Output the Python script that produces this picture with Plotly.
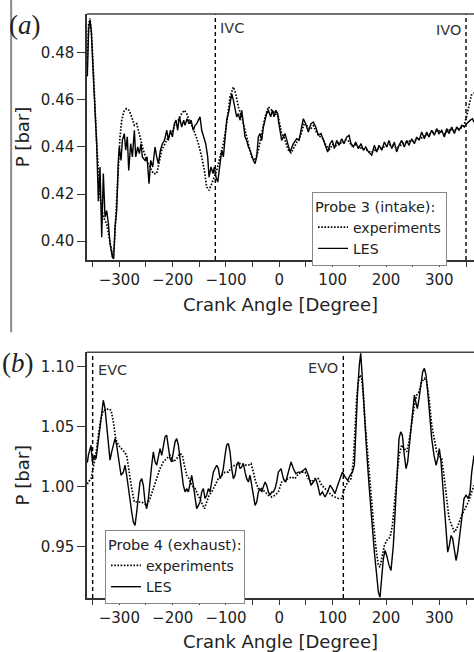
import plotly.graph_objects as go

# ---------------- data: probe 3 (intake) ----------------
a_les_x = [-360, -357.5, -355, -352.5, -348.7, -342.4, -339.3, -336.2, -333, -330, -326.8, -323.7, -320.5, -317.4, -313, -310.5, -308, -304.9, -301.8, -300, -296.8, -294.3, -290.6, -288, -285, -282.4, -278.7, -275.5, -271.8, -269.3, -265.5, -262.4, -259.3, -256.8, -251.8, -248, -244.3, -241.2, -237.4, -233, -229.9, -226.8, -223, -219.3, -215.5, -211, -208, -204.3, -200.5, -196.8, -193.7, -190.6, -187.4, -183, -179.3, -176.8, -173, -169.3, -165.5, -161.2, -158, -154.9, -151.8, -148.7, -145.5, -142.4, -138, -134.3, -131.8, -128, -124.3, -121.8, -118.7, -115.5, -111.8, -108, -104.9, -101.8, -98.7, -94.3, -91.2, -89.3, -86.2, -83, -79.9, -76.8, -73.7, -70.5, -67.4, -64.3, -61.2, -58, -54.9, -51.8, -48.7, -45.5, -42.4, -39.3, -36.2, -33, -29.9, -26.8, -23.7, -20.5, -16.2, -13, -9.9, -6.8, -3, -1.8, 4.4, 10.7, 17, 20, 26.3, 32.6, 37, 40.7, 45, 49.4, 54.4, 59.4, 63.8, 68.2, 73.2, 78.2, 82.6, 87, 90.7, 95, 99.4, 103.2, 107.6, 112, 117, 121.3, 126.3, 130.7, 134.4, 138.8, 143.2, 148.2, 153.2, 157.6, 162, 167, 173.2, 178.2, 182.6, 187, 192, 197, 201.3, 205.7, 210.7, 215.7, 220, 224.4, 229.4, 234.4, 238.8, 243.2, 248.2, 253.2, 257.6, 262, 267, 272, 276.3, 280.7, 285.7, 290.7, 295, 299.4, 304.4, 309.4, 313.8, 318.2, 323.2, 328.2, 332.6, 337, 342, 347, 351.3, 357.6, 362, 365]
a_les_p = [0.470, 0.490, 0.494, 0.489, 0.470, 0.441, 0.417, 0.4315, 0.4017, 0.4287, 0.4102, 0.413, 0.4074, 0.3989, 0.3932, 0.3925, 0.406, 0.4131, 0.4343, 0.440, 0.4343, 0.4428, 0.4457, 0.4386, 0.4443, 0.430, 0.4414, 0.4358, 0.4471, 0.4358, 0.440, 0.4372, 0.4414, 0.4358, 0.4343, 0.4358, 0.4244, 0.4343, 0.4315, 0.440, 0.4358, 0.4329, 0.4386, 0.4414, 0.4428, 0.4471, 0.4428, 0.4471, 0.4443, 0.4499, 0.4514, 0.4471, 0.4528, 0.4485, 0.4514, 0.4492, 0.452, 0.4499, 0.4514, 0.4471, 0.4492, 0.4499, 0.4514, 0.4528, 0.4471, 0.4443, 0.4414, 0.4358, 0.4272, 0.4315, 0.4287, 0.4315, 0.4272, 0.4251, 0.4315, 0.4386, 0.4358, 0.4443, 0.4514, 0.4556, 0.4613, 0.4627, 0.4599, 0.4556, 0.4528, 0.4542, 0.4514, 0.4556, 0.4485, 0.4443, 0.4428, 0.440, 0.4386, 0.4358, 0.4343, 0.4329, 0.4358, 0.4443, 0.4457, 0.4428, 0.4485, 0.4514, 0.4542, 0.4556, 0.4528, 0.4556, 0.4528, 0.4556, 0.4542, 0.4513, 0.4428, 0.4457, 0.440, 0.4379, 0.4414, 0.4435, 0.4428, 0.4471, 0.452, 0.4499, 0.4464, 0.4499, 0.4506, 0.4485, 0.445, 0.4457, 0.4428, 0.440, 0.4379, 0.4414, 0.4428, 0.4393, 0.4428, 0.4407, 0.4435, 0.4414, 0.4442, 0.445, 0.4414, 0.440, 0.4421, 0.4393, 0.4414, 0.4386, 0.440, 0.4379, 0.4365, 0.4407, 0.4379, 0.4407, 0.4386, 0.4421, 0.440, 0.4428, 0.4393, 0.4421, 0.4379, 0.4407, 0.4428, 0.440, 0.4428, 0.4407, 0.4435, 0.4414, 0.4442, 0.4428, 0.4464, 0.4435, 0.4464, 0.4442, 0.4471, 0.445, 0.4478, 0.4457, 0.4471, 0.4442, 0.4478, 0.4457, 0.4485, 0.4457, 0.4485, 0.4471, 0.4492, 0.4485, 0.4499, 0.4513, 0.452, 0.4505]

a_exp_x = [-360, -357.5, -355, -352, -348.7, -342.4, -336.2, -330, -323.7, -317.4, -312.4, -309.3, -305, -301.8, -298.7, -295.5, -290.6, -286.2, -281.8, -276.8, -271.8, -267.4, -264.3, -259.3, -254.9, -248.7, -242.4, -236.2, -229.9, -225.6, -220.5, -214.3, -208, -201.8, -195.5, -189.3, -183, -178, -173.7, -169.3, -164.3, -158, -151.8, -145.5, -140.5, -136.2, -131.8, -126.8, -121.8, -117.4, -111.2, -104.9, -98.7, -92.4, -86.2, -81.8, -76.8, -70.5, -64.3, -58, -51.8, -45.5, -39.3, -33, -26.8, -20.5, -14.3, -8, -1.8, 4, 10, 16, 22, 28, 34, 40, 46, 52, 58, 64, 70, 76, 82, 88, 94, 100, 106, 112, 118, 124, 130, 136, 142, 148, 154, 160, 166, 172, 178, 184, 190, 196, 202, 208, 214, 220, 226, 232, 238, 244, 250, 256, 262, 268, 274, 280, 286, 292, 298, 304, 310, 316, 322, 328, 334, 340, 346, 350, 355, 360, 365]
a_exp_p = [0.478, 0.492, 0.4946, 0.488, 0.4726, 0.4414, 0.4187, 0.4102, 0.4074, 0.4003, 0.3932, 0.3989, 0.4159, 0.4329, 0.4443, 0.4514, 0.4556, 0.4563, 0.4556, 0.4528, 0.4492, 0.4499, 0.4471, 0.4428, 0.4386, 0.4343, 0.4315, 0.4287, 0.4287, 0.4329, 0.4386, 0.4414, 0.4443, 0.4457, 0.4499, 0.4514, 0.4542, 0.4556, 0.4542, 0.4514, 0.4492, 0.4457, 0.4414, 0.4358, 0.430, 0.423, 0.4216, 0.4244, 0.4272, 0.430, 0.4358, 0.4414, 0.4499, 0.4613, 0.4655, 0.4627, 0.457, 0.4528, 0.4471, 0.4414, 0.4358, 0.4343, 0.4386, 0.4457, 0.4528, 0.457, 0.4556, 0.4542, 0.4528, 0.446, 0.4435, 0.439, 0.4375, 0.440, 0.4425, 0.445, 0.4495, 0.449, 0.4475, 0.449, 0.446, 0.4445, 0.4435, 0.4405, 0.439, 0.441, 0.4405, 0.442, 0.4415, 0.443, 0.4425, 0.4405, 0.441, 0.440, 0.4395, 0.439, 0.4385, 0.4375, 0.4385, 0.439, 0.4395, 0.440, 0.4405, 0.441, 0.4405, 0.4395, 0.4405, 0.4415, 0.442, 0.4425, 0.4425, 0.443, 0.4435, 0.444, 0.445, 0.4455, 0.446, 0.4465, 0.447, 0.4465, 0.4455, 0.447, 0.4475, 0.447, 0.4475, 0.448, 0.449, 0.452, 0.457, 0.462, 0.463]

# ---------------- data: probe 4 (exhaust) ----------------
b_les_x = [-360, -358, -353, -350.5, -346.8, -343.7, -340.5, -336.2, -333, -330, -326.8, -323.7, -320.5, -317.4, -314.3, -311.2, -308, -305, -301.8, -296.8, -292.4, -289.3, -286.2, -283, -280, -276.8, -273.7, -270.5, -267.4, -264.3, -261.2, -258, -255, -251.8, -248.7, -245.5, -242.4, -239.3, -236.2, -233, -229.9, -226.8, -223.7, -220.5, -217.4, -214.3, -211.2, -208, -205, -201.8, -198.7, -195.5, -192.4, -189.3, -186.2, -183, -180, -176.8, -173.7, -170.5, -167.4, -164.3, -161.2, -158, -155, -151.8, -148.7, -145.5, -142.4, -139.3, -136.2, -133, -130, -126.8, -123.7, -120.5, -117.4, -114.3, -111.2, -108, -105, -101.8, -98.7, -95.5, -92.4, -89.3, -86.2, -83, -80, -76.8, -73.7, -70.5, -67.4, -64.3, -61.2, -58, -55, -51.8, -48.7, -45.5, -42.4, -39.3, -36.2, -33, -30, -26.8, -23.7, -20.5, -17.4, -14.3, -11.2, -8, -5, -1.8, 3.2, 7.6, 12, 17, 22, 26.3, 30.7, 35.7, 40.7, 45, 49.4, 54.4, 59.4, 63.8, 68.2, 72, 76.3, 80.7, 85.7, 90.7, 95, 99.4, 104.4, 109.4, 113.8, 118.2, 123.2, 128.2, 132.6, 137, 140.7, 143.2, 147, 150, 152.6, 155.7, 159.5, 163.8, 168.2, 173.2, 178.2, 182.6, 185.7, 188.8, 192, 195, 198.2, 201.3, 205.7, 209.4, 213.8, 218.2, 222, 224.4, 227.6, 230.7, 234.4, 237.6, 240.7, 245, 249.4, 253.2, 255.7, 258.8, 262, 265.7, 268.8, 272, 275, 278.2, 282, 285.7, 290, 294, 297, 300, 303.2, 306.3, 309.4, 312.6, 315.7, 318.8, 322, 325, 328.2, 331.3, 334.4, 337.6, 342, 346.3, 350, 354.4, 357.6, 360.7, 365]
b_les_p = [1.020, 1.026, 1.0345, 1.0206, 1.026, 1.0233, 1.034, 1.0484, 1.0624, 1.072, 1.065, 1.0512, 1.0345, 1.022, 1.029, 1.0345, 1.040, 1.0345, 1.0233, 1.0094, 1.012, 1.0178, 1.0094, 0.9983, 0.9871, 0.9788, 0.9704, 0.9676, 0.9788, 0.9927, 1.0038, 1.0066, 1.0011, 0.9871, 0.9815, 0.990, 1.0066, 1.0178, 1.029, 1.0206, 1.0178, 1.026, 1.0317, 1.026, 1.0345, 1.0415, 1.0429, 1.0345, 1.0233, 1.0206, 1.029, 1.0373, 1.040, 1.0345, 1.0233, 1.012, 1.0011, 0.9955, 0.9983, 0.9955, 1.0038, 1.0094, 1.0011, 0.990, 0.9815, 0.9843, 0.9871, 0.9955, 0.9983, 0.990, 0.9927, 0.9983, 0.9955, 1.0038, 1.012, 1.015, 1.0178, 1.015, 1.0066, 1.0094, 1.015, 1.026, 1.0345, 1.0359, 1.029, 1.015, 1.0066, 1.0094, 1.0178, 1.0206, 1.015, 1.0164, 1.0192, 1.012, 1.0066, 1.0038, 1.0094, 1.0011, 0.9927, 0.9843, 0.9871, 0.9955, 0.9983, 0.9955, 0.9997, 1.0038, 1.0011, 0.9955, 0.9927, 0.9955, 0.9955, 0.9983, 1.0038, 1.012, 1.015, 1.0066, 1.0038, 1.012, 1.0206, 1.015, 1.0108, 1.012, 1.012, 1.0136, 1.015, 1.0094, 1.0011, 1.0038, 1.0066, 1.0011, 0.9927, 0.9955, 0.9913, 0.9955, 1.0011, 0.9983, 0.9941, 1.0011, 1.0066, 1.012, 1.008, 1.0052, 1.0094, 1.012, 1.0178, 1.0484, 1.0819, 1.1014, 1.1111, 1.0902, 1.0568, 1.0289, 1.0011, 0.9704, 0.9453, 0.9258, 0.9119, 0.9077, 0.9286, 0.9397, 0.9467, 0.9425, 0.9342, 0.930, 0.9509, 0.9871, 1.0233, 1.040, 1.0456, 1.0429, 1.026, 1.015, 1.0206, 1.040, 1.0624, 1.0763, 1.0707, 1.0651, 1.0735, 1.0875, 1.0958, 1.0986, 1.093, 1.0791, 1.0568, 1.040, 1.026, 1.0178, 1.0233, 1.0317, 1.0206, 1.0038, 0.9843, 0.962, 0.9453, 0.9509, 0.9592, 0.9564, 0.9453, 0.9383, 0.9453, 0.9592, 0.9732, 0.990, 0.9927, 0.990, 0.9955, 1.012, 1.026]

b_exp_x = [-360, -358, -353, -348.7, -344.3, -339.3, -334.3, -330, -325.5, -320.5, -315.5, -311.2, -306.8, -301.8, -295.5, -290.6, -286.2, -281.8, -276.8, -271.8, -267.4, -263, -258, -253, -248.7, -242.4, -236.2, -229.9, -223.7, -217.4, -211.2, -205, -198.7, -192.4, -186.2, -181.8, -178, -173.7, -169.3, -164.3, -158, -151.8, -145.5, -140.5, -136.2, -131.8, -126.8, -120.5, -114.3, -108, -101.8, -95.5, -89.3, -83, -76.8, -70.5, -64.3, -58, -53, -48.7, -44.3, -39.3, -33, -26.8, -20.5, -14.3, -8, -1.8, 4.4, 10.7, 17, 23.2, 29.4, 35.7, 41.9, 48.2, 54.4, 60.7, 67, 73.2, 79.4, 85.7, 92, 98.2, 104.4, 110.7, 117, 120, 124.4, 129.4, 134.4, 138.8, 142, 145, 148.2, 151.3, 154.4, 157.6, 160.7, 165.7, 170.7, 176.3, 181.3, 185.7, 188.8, 192, 197, 201.3, 207.6, 212, 215.7, 220, 224.4, 229.4, 234.4, 238.8, 243.2, 248.2, 253.2, 257.6, 262, 267, 272, 276.3, 280.7, 285.7, 290.7, 295, 299.4, 304.4, 309.4, 313.8, 318.2, 323.2, 328.2, 332.6, 337, 342, 348.2, 354.4, 360.7, 365]
b_exp_p = [1.002, 1.0038, 1.0066, 1.015, 1.026, 1.0429, 1.0568, 1.0637, 1.0637, 1.065, 1.0637, 1.054, 1.040, 1.0345, 1.0317, 1.029, 1.026, 1.012, 0.9983, 0.9871, 0.9871, 0.9871, 0.9871, 0.9857, 0.9843, 0.990, 0.9983, 1.0066, 1.015, 1.0206, 1.0233, 1.026, 1.0206, 1.0233, 1.0275, 1.026, 1.0178, 1.0094, 1.0066, 1.0011, 0.9983, 0.9927, 0.9871, 0.9815, 0.9871, 0.9927, 0.9955, 1.0011, 1.0066, 1.0094, 1.012, 1.012, 1.0164, 1.0178, 1.0192, 1.0192, 1.0178, 1.0178, 1.0192, 1.012, 1.0038, 0.9983, 0.9983, 0.9955, 0.9927, 0.9913, 0.9927, 0.9955, 1.0038, 1.0052, 1.0066, 1.008, 1.0066, 1.0108, 1.012, 1.012, 1.0066, 1.0038, 1.0066, 1.0066, 1.0011, 0.9983, 0.9955, 0.9927, 0.9913, 0.990, 0.990, 0.9955, 1.0011, 1.0038, 1.0066, 1.0206, 1.0484, 1.0735, 1.0875, 1.093, 1.0902, 1.0763, 1.054, 1.026, 0.9983, 0.9704, 0.9481, 0.9342, 0.9328, 0.9397, 0.9509, 0.955, 0.9578, 0.9676, 0.9843, 1.0066, 1.026, 1.0345, 1.0317, 1.029, 1.0373, 1.054, 1.0679, 1.0763, 1.0791, 1.0875, 1.0902, 1.0875, 1.0735, 1.0512, 1.0373, 1.029, 1.026, 1.0233, 1.0066, 0.9871, 0.9732, 0.9676, 0.962, 0.9648, 0.9704, 0.976, 0.9815, 0.9871, 0.9955, 1.0011]

# valve events (crank angle, label)
a_events = [(-120, "IVC"), (350, "IVO")]
b_events = [(-350, "EVC"), (120, "EVO")]

a_yticks = [0.40, 0.42, 0.44, 0.46, 0.48]
b_yticks = [0.95, 1.00, 1.05, 1.10]

FONT = "DejaVu Sans"
INK = "#222222"
DOT = "1.6px,1.6px"

fig = go.Figure()
fig.add_trace(go.Scatter(x=a_exp_x, y=a_exp_p, mode="lines", name="experiments",
                         line=dict(color="black", width=1.7, dash=DOT),
                         xaxis="x", yaxis="y", legend="legend"))
fig.add_trace(go.Scatter(x=a_les_x, y=a_les_p, mode="lines", name="LES",
                         line=dict(color="black", width=1.4),
                         xaxis="x", yaxis="y", legend="legend"))
fig.add_trace(go.Scatter(x=b_exp_x, y=b_exp_p, mode="lines", name="experiments",
                         line=dict(color="black", width=1.7, dash=DOT),
                         xaxis="x2", yaxis="y2", legend="legend2"))
fig.add_trace(go.Scatter(x=b_les_x, y=b_les_p, mode="lines", name="LES",
                         line=dict(color="black", width=1.4),
                         xaxis="x2", yaxis="y2", legend="legend2"))

xcommon = dict(range=[-360.6, 365], dtick=100, tick0=0, ticks="outside", ticklen=5,
               tickwidth=1.3, tickcolor="#333", showline=True, linecolor="#333",
               linewidth=1.5, mirror=False, showgrid=False, zeroline=False,
               tickfont=dict(family=FONT, size=15, color=INK),
               minor=dict(dtick=50, ticks="outside", ticklen=5, tickwidth=1.3, tickcolor="#333"),
               title=dict(text="Crank Angle [Degree]", font=dict(family=FONT, size=18, color=INK), standoff=11),
               automargin=False)
ycommon = dict(ticks="outside", ticklen=8, tickwidth=1.3, tickcolor="#333", showline=True,
               linecolor="#333", linewidth=1.5, showgrid=False, zeroline=False, tickformat=".2f",
               tickfont=dict(family=FONT, size=15, color=INK),
               title=dict(text="P [bar]", font=dict(family=FONT, size=18, color=INK), standoff=7),
               automargin=False)

top_dom = [0.5788, 1.0]
bot_dom = [0.0, 0.4207]

shapes = []
annotations = []
for xr, yr, events, yv in [("x", "y", a_events, [0.943, 0.935]), ("x2", "y2", b_events, [0.928, 0.936])]:
    for (xe, lab), yy in zip(events, yv):
        shapes.append(dict(type="line", xref=xr, yref=yr + " domain", x0=xe, x1=xe, y0=0, y1=1,
                           line=dict(color="black", width=1.4, dash="4px,3px")))
        left = (lab in ("IVC", "EVC"))
        annotations.append(dict(text=lab, xref=xr, yref=yr + " domain", x=xe, y=yy,
                                xanchor="left" if left else "right", yanchor="middle",
                                xshift=3 if left else -3, showarrow=False,
                                font=dict(family=FONT, size=14.5, color="#333")))
# top frame lines
for yr in ["y", "y2"]:
    shapes.append(dict(type="line", xref="paper", yref=yr + " domain", x0=0, x1=1, y0=1, y1=1,
                       line=dict(color="#444", width=1.5)))
# gray side rule from the page
shapes.append(dict(type="line", xref="paper", yref="paper", x0=-0.196, x1=-0.196, y0=1.03, y1=0.455,
                   line=dict(color="#8a8a8a", width=2)))

annotations.append(dict(text="(<i>a</i>)", xref="paper", yref="paper", x=-0.206, y=0.981,
                        xanchor="left", yanchor="middle", showarrow=False,
                        font=dict(family="Liberation Serif", size=27, color="#222")))
annotations.append(dict(text="(<i>b</i>)", xref="paper", yref="paper", x=-0.225, y=0.4024,
                        xanchor="left", yanchor="middle", showarrow=False,
                        font=dict(family="Liberation Serif", size=27, color="#222")))

legcommon = dict(bgcolor="white", bordercolor="#888", borderwidth=1, xanchor="left", yanchor="top",
                 font=dict(family=FONT, size=14, color=INK), itemwidth=30, tracegroupgap=0)

fig.update_layout(
    width=474, height=652,
    margin=dict(l=87, r=0, t=14, b=54),
    paper_bgcolor="white", plot_bgcolor="white",
    showlegend=True,
    xaxis=dict(xcommon, anchor="y"),
    yaxis=dict(ycommon, domain=top_dom, anchor="x", range=[0.392, 0.4965], tickvals=a_yticks),
    xaxis2=dict(xcommon, anchor="y2"),
    yaxis2=dict(ycommon, domain=bot_dom, anchor="x2", range=[0.907, 1.112], tickvals=b_yticks),
    legend=dict(legcommon, x=0.5814, y=0.6957,
                title=dict(text="Probe 3 (intake):", font=dict(family=FONT, size=14.5, color=INK))),
    legend2=dict(legcommon, x=0.0465, y=0.1164,
                 title=dict(text="Probe 4 (exhaust):", font=dict(family=FONT, size=14.5, color=INK))),
    shapes=shapes,
    annotations=annotations,
)

fig.write_html("out.html", config={"displayModeBar": False},
               post_script="document.body.style.margin='0px';document.body.style.padding='0px';")
